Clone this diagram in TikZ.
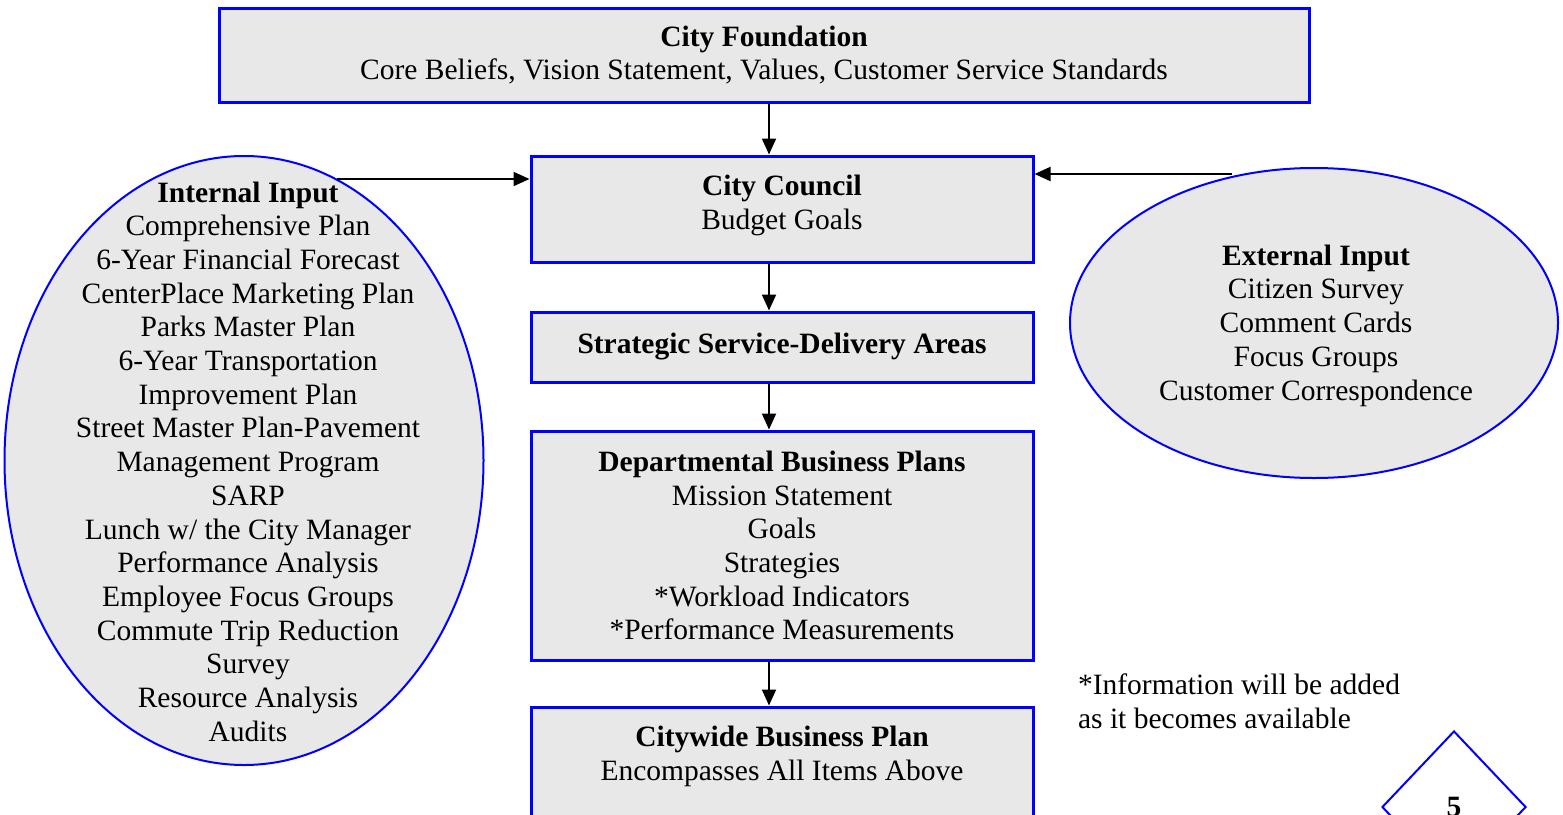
\documentclass[tikz,border=0pt]{standalone}
\usepackage{fontspec}
\setmainfont{Liberation Serif}
\usepackage{xcolor}
\usetikzlibrary{positioning,arrows.meta,shapes.geometric}

\definecolor{boxgray}{RGB}{232,232,232}

\begin{document}
\begin{tikzpicture}[x=0.5pt, y=-0.5pt,
  font=\fontsize{14.75pt}{16.85pt}\selectfont,
  planbox/.style={draw=blue, line width=1.5pt, fill=boxgray, align=center, inner sep=0pt},
  inputoval/.style={ellipse, draw=blue, line width=1pt, fill=boxgray, inner sep=0pt},
  flow/.style={-{Triangle[length=8pt,width=7pt]}, line width=1pt}]
\useasboundingbox (0,0) rectangle (1563,814);
\clip (0,0) rectangle (1563,814);

\node[planbox, minimum width=545pt, minimum height=47pt] (foundation) at (764,55)
  {\textbf{City Foundation}\\Core Beliefs, Vision Statement, Values, Customer Service Standards};
\node[planbox, minimum width=251pt, minimum height=53pt] (council) at (782,209)
  {\textbf{City Council}\\Budget Goals\rule[-6.5pt]{0pt}{0pt}};
\node[planbox, minimum width=251pt, minimum height=35pt] (areas) at (782,347)
  {\textbf{Strategic Service-Delivery Areas}\rule[-2.5pt]{0pt}{0pt}};
\node[planbox, minimum width=251pt, minimum height=114.5pt] (depts) at (782,545.5)
  {\textbf{Departmental Business Plans}\\Mission Statement\\Goals\\Strategies\\*Workload Indicators\\*Performance Measurements};
\node[planbox, minimum width=251pt, minimum height=80pt] (citywide) at (782,787)
  {\textbf{Citywide Business Plan}\\Encompasses All Items Above\\~\\~};

\node[inputoval, minimum width=239.5pt, minimum height=304.5pt] (internal) at (244,460.5) {};
\node[align=center] (internaltext) at (248,461.5)
  {\textbf{Internal Input}\\Comprehensive Plan\\6-Year Financial Forecast\\CenterPlace Marketing Plan\\Parks Master Plan\\6-Year Transportation\\Improvement Plan\\Street Master Plan-Pavement\\Management Program\\SARP\\Lunch w/ the City Manager\\Performance Analysis\\Employee Focus Groups\\Commute Trip Reduction\\Survey\\Resource Analysis\\Audits};
\node[inputoval, minimum width=244pt, minimum height=155pt] (external) at (1314,323) {};
\node[align=center] (externaltext) at (1316,325.5)
  {\textbf{External Input}\\Citizen Survey\\Comment Cards\\Focus Groups\\Customer Correspondence};

\node[align=left, anchor=west] (note) at (1071,701)
  {*Information will be added\\as it becomes available};
\node[diamond, draw=blue, line width=1pt, minimum width=72pt, minimum height=76pt, inner sep=0pt] (page) at (1454,807)
  {\textbf{5}};

% connectors
\coordinate (spine) at (769,0);
\coordinate (intout) at (337,179);
\coordinate (extout) at (1232,174);
\draw[flow] (spine |- foundation.south) -- (spine |- council.north);
\draw[flow] (spine |- council.south) -- (spine |- areas.north);
\draw[flow] (spine |- areas.south) -- (spine |- depts.north);
\draw[flow] (spine |- depts.south) -- (spine |- citywide.north);
\draw[flow] (intout) -- (intout -| council.west);
\draw[flow] (extout) -- (extout -| council.east);

\end{tikzpicture}
\end{document}
